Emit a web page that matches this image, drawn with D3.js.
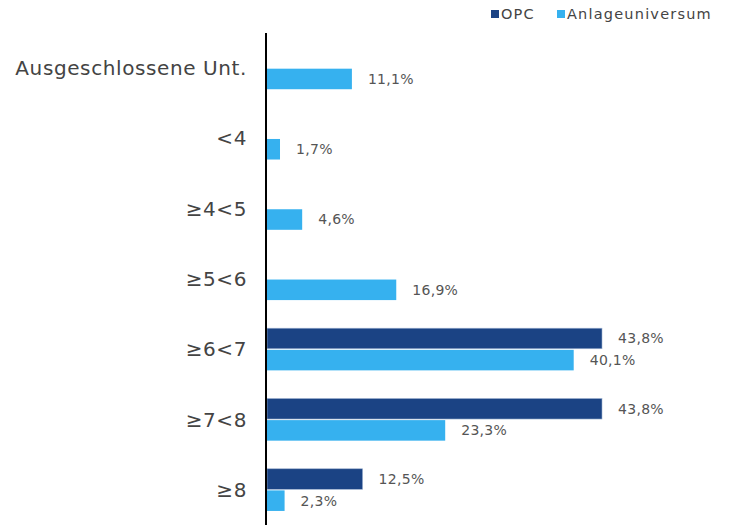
<!DOCTYPE html>
<html>
<head>
<meta charset="utf-8">
<script src="https://cdn.jsdelivr.net/npm/d3@7"></script>
<style>
  body { margin: 0; background: #fff; }
  svg { font-family: 'DejaVu Sans', sans-serif; }
</style>
</head>
<body>
<div class="container"></div>
<script>
const categories = ['Ausgeschlossene Unt.', '<4', '≥4<5', '≥5<6', '≥6<7', '≥7<8', '≥8'];
const seriesNames = ['OPC', 'Anlageuniversum'];
const opcValues = [null, null, null, null, 43.8, 43.8, 12.5];
const universeValues = [11.1, 1.7, 4.6, 16.9, 40.1, 23.3, 2.3];
const colors = ['#1b4384', '#36b1ef'];

var display = function () {
  var svg = d3.select('.container').append('svg')
    .attr('width', 729)
    .attr('height', 525)

  var x = d3.scaleLinear().domain([0, 43.8]).range([267, 602]);
  var y = d3.scaleBand().domain(categories).range([33, 525]).paddingInner(0.4).paddingOuter(0.2);
  var sub = d3.scaleBand().domain(seriesNames).range([0, y.bandwidth()]).paddingInner(0.05);

  var rows = categories.map(function (c, i) {
    return { cat: c, vals: [opcValues[i], universeValues[i]] };
  });

  var g = svg.selectAll('g.row').data(rows).enter().append('g')
    .attr('class', 'row')
    .attr('transform', function (d) { return 'translate(0,' + y(d.cat) + ')'; })

  seriesNames.forEach(function (s, si) {
    var withVal = g.filter(function (d) { return d.vals[si] != null; });
    withVal.append('rect')
      .attr('x', x(0))
      .attr('y', sub(s))
      .attr('width', function (d) { return x(d.vals[si]) - x(0); })
      .attr('height', sub.bandwidth())
      .style('fill', colors[si])
      .attr('stroke', si == 0 ? '#9fb3d1' : 'none')
      .attr('stroke-width', 0.6)
    withVal.append('text')
      .attr('x', function (d) { return x(d.vals[si]) + 16; })
      .attr('y', sub(s) + sub.bandwidth() / 2)
      .attr('dy', '0.35em')
      .style('font-size', '14px')
      .style('letter-spacing', '0.3px')
      .style('fill', '#555')
      .text(function (d) { return d.vals[si].toFixed(1).replace('.', ',') + '%'; })
  });

  // category labels
  svg.selectAll('text.cat').data(categories).enter().append('text')
    .attr('class', 'cat')
    .attr('x', 247)
    .attr('y', function (d) { return y(d) + y.bandwidth() / 2; })
    .attr('dy', '0.35em')
    .attr('text-anchor', 'end')
    .style('font-size', '20px')
    .style('letter-spacing', '0.6px')
    .style('fill', '#444')
    .text(function (d) { return d; })

  // axis line
  svg.append('line')
    .attr('x1', 266)
    .attr('x2', 266)
    .attr('y1', 33)
    .attr('y2', 525)
    .attr('stroke', '#000')
    .attr('stroke-width', 2)

  // legend
  var legendX = [491, 557];
  seriesNames.forEach(function (s, i) {
    svg.append('rect')
      .attr('x', legendX[i])
      .attr('y', 10)
      .attr('width', 8)
      .attr('height', 8)
      .style('fill', colors[i])
    svg.append('text')
      .attr('x', legendX[i] + 10)
      .attr('y', 14)
      .attr('dy', '0.35em')
      .style('font-size', '14.5px')
      .style('letter-spacing', '1.2px')
      .style('fill', '#444')
      .text(s)
  });
}

window.onload = display;
</script>
</body>
</html>
